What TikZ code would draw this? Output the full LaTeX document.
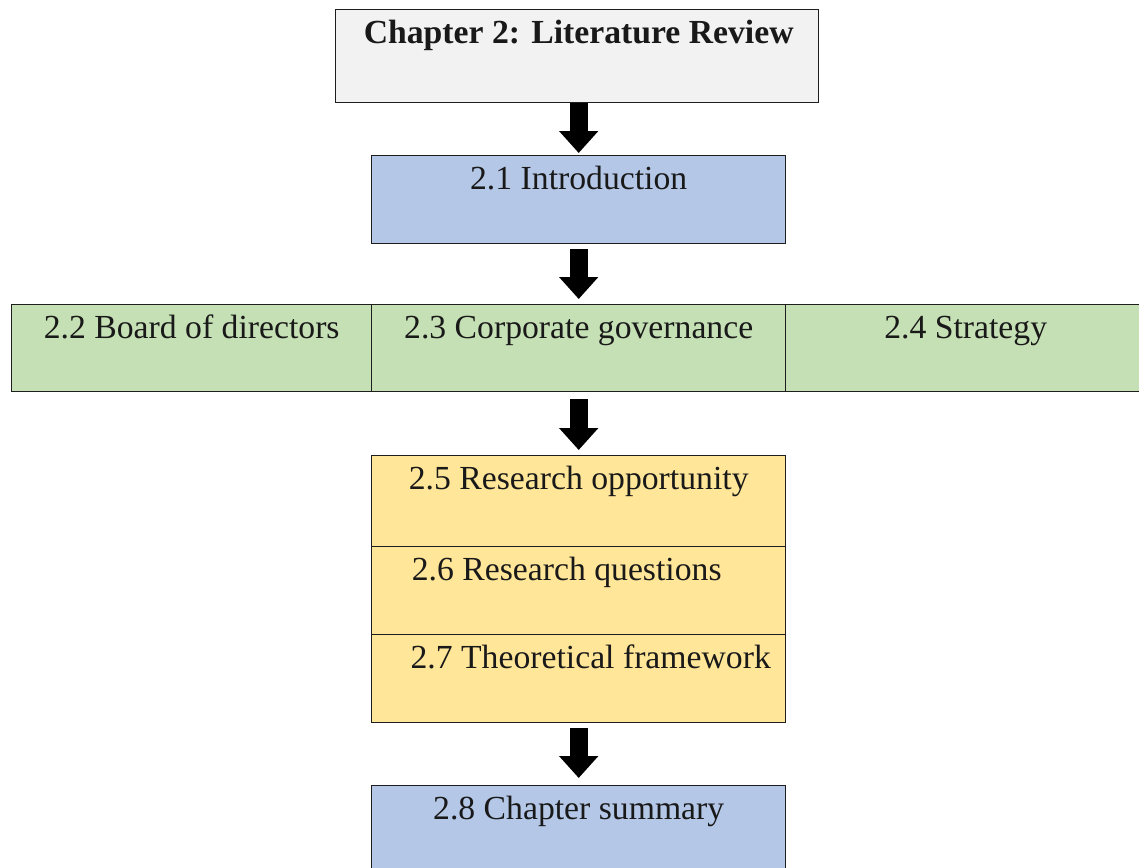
\documentclass[tikz,border=0pt]{standalone}
\usepackage{fontspec}
\setmainfont{Liberation Serif}
\usetikzlibrary{arrows.meta,calc}
\definecolor{chapfill}{HTML}{F2F2F2}
\definecolor{bluefill}{HTML}{B4C7E7}
\definecolor{greenfill}{HTML}{C5E0B4}
\definecolor{yellowfill}{HTML}{FFE699}
\definecolor{edge}{HTML}{1E1E1E}
\begin{document}
\begin{tikzpicture}[x=1pt,y=-1pt,
  box/.style={draw=edge, line width=1.4pt, rectangle, inner sep=0pt, anchor=north west},
  txt/.style={anchor=base, inner sep=0pt, font=\fontsize{33.7}{40}\selectfont, text=black!90},
  flow/.style={line width=18pt, black, -{Triangle[width=38pt,length=22pt]}}
]
\useasboundingbox (0,0) rectangle (1139,867);
\clip (0,0) rectangle (1139,867);

% title box
\node[box, fill=chapfill, minimum width=483pt, minimum height=93pt] (chap) at (335,9) {};
\node[txt, font=\fontsize{33.7}{40}\selectfont\bfseries] (chapT) at ($(chap.north)+(1.5,35)$) {Chapter 2: Literature Review};

% introduction
\node[box, fill=bluefill, minimum width=414pt, minimum height=88pt] (intro) at (371,155) {};
\node[txt] (introT) at ($(intro.north)+(0,34)$) {2.1 Introduction};

% three topic boxes
\node[box, fill=greenfill, minimum width=360pt, minimum height=87pt] (board) at (11,304) {};
\node[box, fill=greenfill, minimum width=414pt, minimum height=87pt] (gov) at (371,304) {};
\node[box, fill=greenfill, minimum width=360pt, minimum height=87pt] (strat) at (785,304) {};
\node[txt] (boardT) at ($(board.north)+(0,34)$) {2.2 Board of directors};
\node[txt] (govT) at ($(gov.north)+(0,34)$) {2.3 Corporate governance};
\node[txt] (stratT) at ($(strat.north)+(0,34)$) {2.4 Strategy};

% research block
\node[box, fill=yellowfill, minimum width=414pt, minimum height=91pt] (opp) at (371,455) {};
\node[box, fill=yellowfill, minimum width=414pt, minimum height=88pt] (quest) at (371,546) {};
\node[box, fill=yellowfill, minimum width=414pt, minimum height=88pt] (frame) at (371,634) {};
\node[txt] (oppT) at ($(opp.north)+(0,34)$) {2.5 Research opportunity};
\node[txt] (questT) at ($(quest.north)+(-12,34)$) {2.6 Research questions};
\node[txt] (frameT) at ($(frame.north)+(12,34)$) {2.7 Theoretical framework};

% summary
\node[box, fill=bluefill, minimum width=414pt, minimum height=95pt] (summ) at (371,785) {};
\node[txt] (summT) at ($(summ.north)+(0,34)$) {2.8 Chapter summary};

% block arrows
\draw[flow] (chap.south -| intro.north) -- ([yshift=2pt]intro.north);
\draw[flow] ([yshift=-5pt]intro.south) -- ([yshift=5pt]gov.north);
\draw[flow] ([yshift=-7pt]gov.south) -- ([yshift=5pt]opp.north);
\draw[flow] ([yshift=-5pt]frame.south) -- ([yshift=7pt]summ.north);
\end{tikzpicture}
\end{document}
